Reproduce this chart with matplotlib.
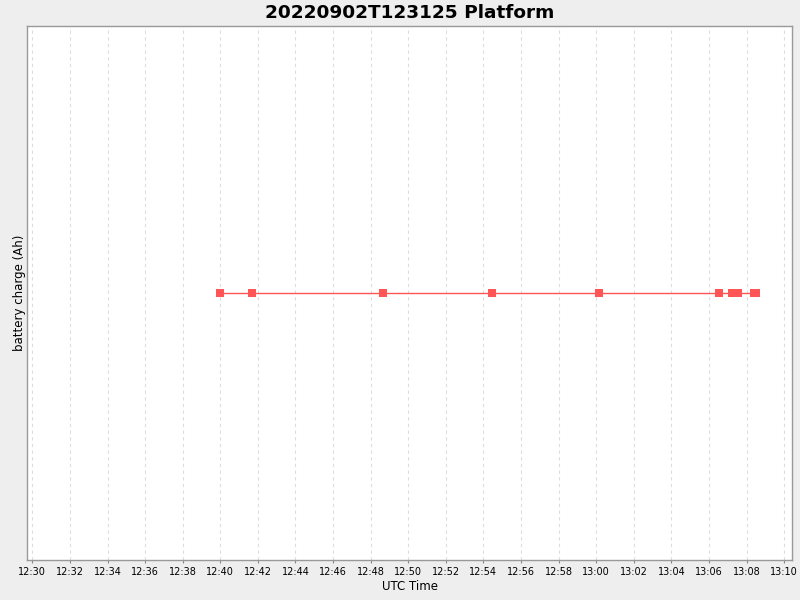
import numpy as np
import pandas as pd
import matplotlib
matplotlib.use("Agg")
import matplotlib.pyplot as plt
import matplotlib.dates as mdates

# sample times (UTC)
times = ["12:40:00", "12:41:42", "12:48:40", "12:54:28", "13:00:10",
         "13:06:32", "13:07:14", "13:07:32", "13:08:25", "13:08:31"]
charge = [0.0, 0.0, 0.0, 0.0, 0.0, 0.0, 0.0, 0.0, 0.0, 0.0]

t = pd.to_datetime(["2022-09-02 " + s for s in times])

fig = plt.figure(figsize=(8, 6), dpi=100)
fig.patch.set_facecolor("#EEEEEE")
ax = fig.add_axes([27 / 800, 40 / 600, 765 / 800, 534 / 600])
ax.set_facecolor("white")

ax.plot(t, charge, color="#FF5555", lw=1, marker="s", ms=5.5,
        markeredgewidth=0, zorder=3)

ax.set_xlim(pd.Timestamp("2022-09-02 12:29:43"), pd.Timestamp("2022-09-02 13:10:25"))
ax.set_ylim(-1, 1)
ax.xaxis.set_major_locator(mdates.MinuteLocator(byminute=range(0, 60, 2)))
ax.xaxis.set_major_formatter(mdates.DateFormatter("%H:%M"))
ax.tick_params(axis="x", labelsize=7, length=2, color="#888888", pad=3)
ax.set_yticks([])

ax.grid(axis="x", color="#DDDDDD", linestyle=(0, (3, 3)), lw=0.8)
for s in ax.spines.values():
    s.set_color("#999999")
    s.set_linewidth(1)

ax.set_xlabel("UTC Time", fontsize=8.5, labelpad=2)
ax.set_ylabel("battery charge (Ah)", fontsize=8.5, labelpad=1)
ax.set_title("20220902T123125 Platform", fontsize=13.3, fontweight="bold", pad=6)

fig.savefig("out.png", dpi=100, facecolor=fig.get_facecolor())
